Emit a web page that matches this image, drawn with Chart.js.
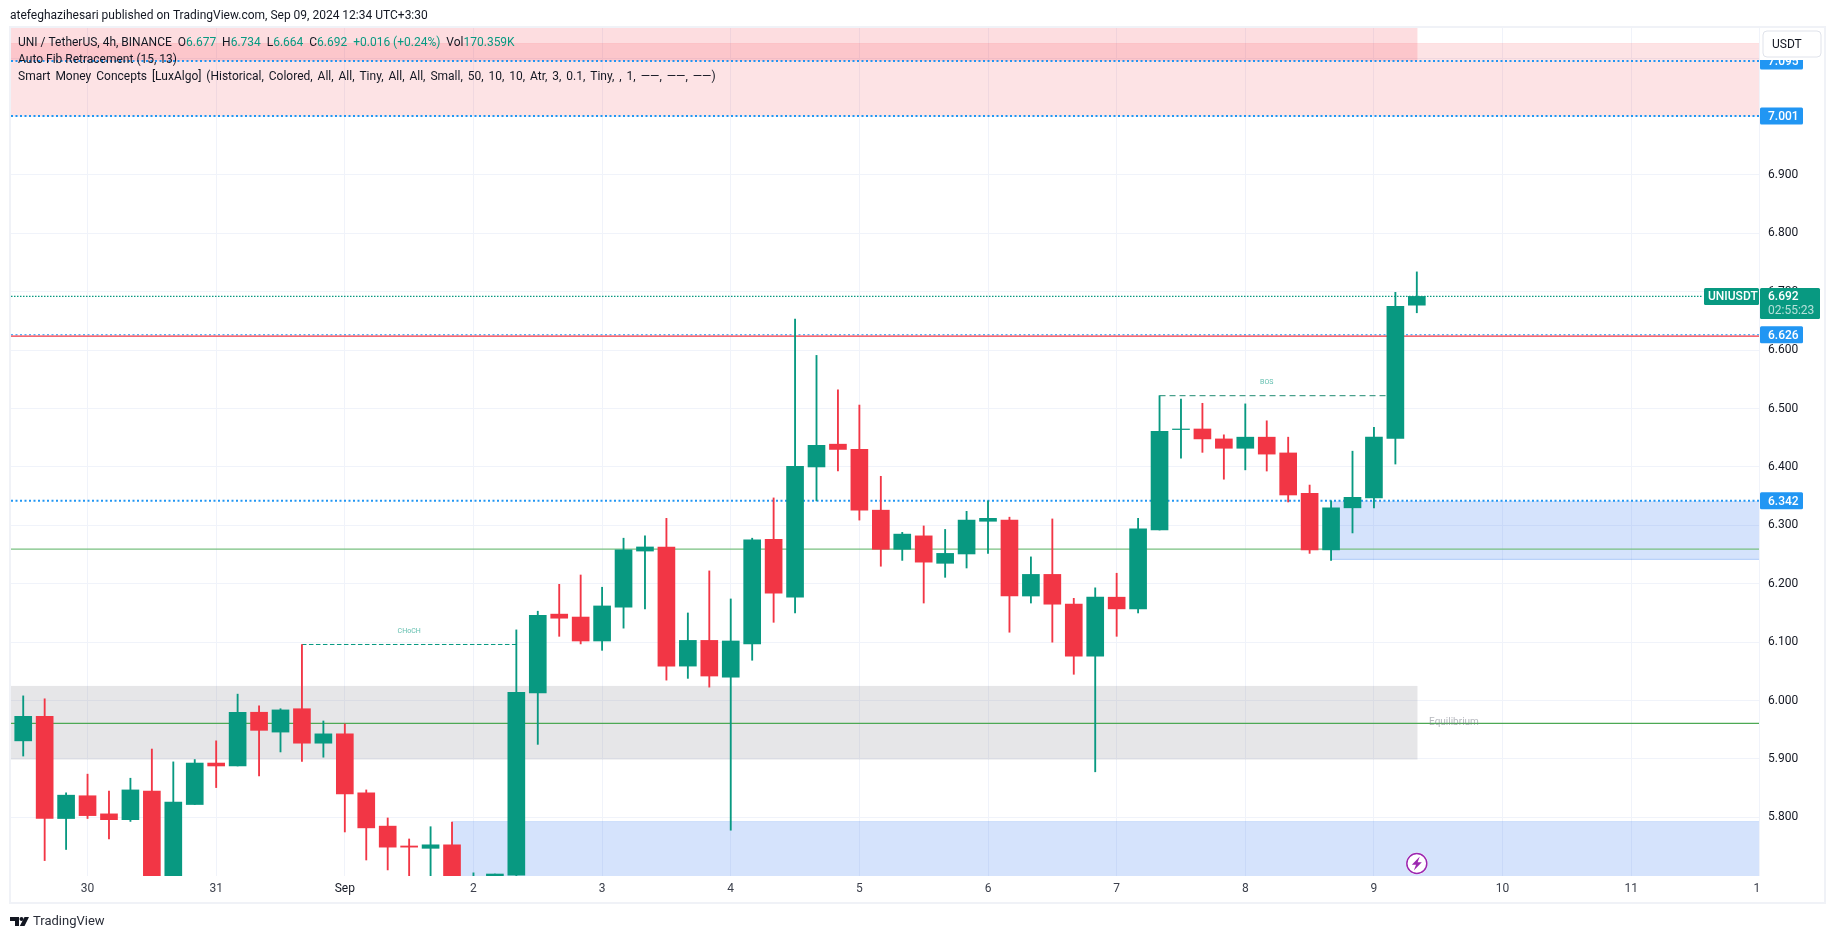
<!DOCTYPE html>
<html>
<head>
<meta charset="utf-8">
<title>UNIUSDT 4h</title>
<script src="https://cdn.jsdelivr.net/npm/chart.js@4/dist/chart.umd.min.js"></script>
<style>
  html, body { margin: 0; padding: 0; background: #fff; overflow: hidden; }
  canvas { display: block; }
</style>
</head>
<body>
<canvas id="chart" width="1835" height="939"></canvas>
<script>
const opens = [5.931,5.973,5.798,5.837,5.806,5.796,5.845,5.69,5.822,5.893,5.888,5.98,5.946,5.986,5.927,5.943,5.842,5.785,5.751,5.747,5.753,5.66,5.665,5.701,6.013,6.148,6.143,6.102,6.16,6.256,6.263,6.059,6.103,6.04,6.097,6.276,6.177,6.4,6.439,6.43,6.326,6.259,6.282,6.235,6.251,6.307,6.309,6.179,6.216,6.165,6.076,6.177,6.157,6.292,6.464,6.465,6.448,6.432,6.451,6.424,6.355,6.258,6.33,6.347,6.449,6.677];
const highs = [6.008,6.003,5.842,5.874,5.845,5.867,5.917,5.895,5.899,5.931,6.011,5.991,5.986,6.096,5.965,5.96,5.847,5.799,5.763,5.784,5.792,5.705,5.703,6.121,6.153,6.199,6.215,6.194,6.278,6.282,6.312,6.15,6.222,6.174,6.278,6.347,6.653,6.591,6.532,6.506,6.384,6.288,6.299,6.293,6.324,6.342,6.314,6.246,6.311,6.175,6.193,6.218,6.312,6.522,6.516,6.509,6.455,6.508,6.479,6.451,6.369,6.342,6.427,6.468,6.699,6.734];
const lows = [5.905,5.726,5.745,5.798,5.763,5.793,5.65,5.67,5.822,5.851,5.888,5.871,5.912,5.896,5.903,5.775,5.727,5.71,5.69,5.68,5.64,5.64,5.65,5.695,5.925,6.11,6.097,6.086,6.124,6.157,6.035,6.038,6.023,5.778,6.069,6.134,6.15,6.342,6.393,6.309,6.23,6.24,6.167,6.211,6.227,6.252,6.117,6.167,6.1,6.045,5.878,6.11,6.15,6.292,6.415,6.425,6.379,6.395,6.393,6.34,6.252,6.24,6.287,6.33,6.405,6.664];
const closes = [5.973,5.798,5.838,5.803,5.796,5.847,5.69,5.826,5.893,5.888,5.98,5.949,5.984,5.927,5.943,5.84,5.782,5.749,5.749,5.753,5.66,5.665,5.703,6.014,6.146,6.141,6.102,6.162,6.258,6.263,6.059,6.103,6.042,6.102,6.275,6.184,6.401,6.437,6.43,6.326,6.259,6.285,6.237,6.252,6.309,6.312,6.179,6.216,6.165,6.076,6.177,6.157,6.294,6.461,6.465,6.448,6.432,6.451,6.422,6.352,6.258,6.33,6.348,6.451,6.675,6.692];

const dayTicks = [3,9,15,21,27,33,39,45,51,57,63,69,75,81];
const dayLabels = ["30","31","Sep","2","3","4","5","6","7","8","9","10","11","1  "];
const priceTicks = [5.8,5.9,6.0,6.1,6.2,6.3,6.4,6.5,6.6,6.7,6.8,6.9,7.0,7.1];

const levelPrices = [7.095,7.001,6.6264,6.342];
const redLine = 6.624;
const lastPrice = 6.692;
const equilibrium = 5.961;
const strongLow = 6.2592;

const zoneNames = ["premiumTop","premium","equilibrium","demandLow","demandHigh"];
const zoneFrom = [-0.57,-0.57,-0.57,20,61];
const zoneTo = [65.03,80.96,65.03,80.96,80.96];
const zoneHigh = [7.16,7.124,6.025,5.792,6.3416];
const zoneLow = [7.095,7.001,5.899,5.6,6.241];

const structureNames = ["CHoCH","BOS"];
const structurePrice = [6.096,6.522];
const structureFrom = [13,53];
const structureTo = [23,64];

const UP = "#089981";
const DOWN = "#F23645";
const BLUE = "#2196F3";
const INK = "#131722";
const FONT = "Roboto, sans-serif";
const zoneColors = ["rgba(242,54,69,.17)","rgba(242,54,69,.14)","rgba(120,123,134,.19)","rgba(34,108,239,.19)","rgba(34,108,239,.19)"];

const candleColors = closes.map((c, i) => (c >= opens[i] ? UP : DOWN));
const xMin = -0.57, xMax = 80.96;

function hline(y, color, width, dash, from, to) {
  return {
    type: "line",
    data: [{ x: from ?? xMin, y }, { x: to ?? xMax, y }],
    borderColor: color,
    borderWidth: width,
    borderDash: dash || [],
    pointRadius: 0,
    order: 5,
  };
}

// zones sit under the lines and candles but above the grid
const zonesPlugin = {
  id: "zones",
  beforeDatasetsDraw(chart) {
    const { ctx, scales: { x, y }, chartArea: a } = chart;
    ctx.save();
    ctx.beginPath();
    ctx.rect(a.left, a.top, a.width, a.height);
    ctx.clip();
    zoneNames.forEach((name, i) => {
      const x0 = x.getPixelForValue(zoneFrom[i]);
      const x1 = x.getPixelForValue(zoneTo[i]);
      const y0 = y.getPixelForValue(zoneHigh[i]);
      const y1 = y.getPixelForValue(zoneLow[i]);
      ctx.fillStyle = zoneColors[i];
      ctx.fillRect(x0, y0, x1 - x0, y1 - y0);
    });
    ctx.fillStyle = "rgba(34,108,239,.22)";
    ctx.fillRect(x.getPixelForValue(zoneFrom[3]), y.getPixelForValue(zoneHigh[3]) - 1, x.getPixelForValue(zoneTo[3]) - x.getPixelForValue(zoneFrom[3]), 1);
    ctx.fillRect(x.getPixelForValue(zoneFrom[4]), y.getPixelForValue(zoneLow[4]) - 1, x.getPixelForValue(zoneTo[4]) - x.getPixelForValue(zoneFrom[4]), 1);
    ctx.fillStyle = "rgba(242,54,69,.18)";
    ctx.fillRect(x.getPixelForValue(zoneFrom[1]), y.getPixelForValue(zoneHigh[1]) - 1, x.getPixelForValue(zoneTo[1]) - x.getPixelForValue(zoneFrom[1]), 1);
    ctx.restore();
  },
};

function tag(ctx, left, top, w, h, color) {
  ctx.fillStyle = color;
  ctx.beginPath();
  ctx.roundRect(left, top, w, h, 1.5);
  ctx.fill();
}

function runs(ctx, x, y, parts) {
  parts.forEach(([text, color]) => {
    ctx.fillStyle = color;
    ctx.fillText(text, x, y);
    x += ctx.measureText(text).width;
  });
}

const overlayPlugin = {
  id: "overlay",
  afterDraw(chart) {
    const { ctx, scales: { x, y } } = chart;
    ctx.save();
    ctx.textBaseline = "middle";
    ctx.textAlign = "left";

    // frame
    ctx.strokeStyle = "#F0F2F7";
    ctx.lineWidth = 2;
    ctx.strokeRect(10, 27, 1815, 876);

    // header and legend
    ctx.font = "12px " + FONT;
    ctx.fillStyle = INK;
    ctx.fillText("atefeghazihesari published on TradingView.com, Sep 09, 2024 12:34 UTC+3:30", 10, 15.5);
    runs(ctx, 18, 42.5, [
      ["UNI / TetherUS, 4h, BINANCE  O", INK], ["6.677", UP], ["  H", INK], ["6.734", UP],
      ["  L", INK], ["6.664", UP], ["  C", INK], ["6.692", UP], ["  +0.016 (+0.24%)", UP],
      ["  Vol", INK], ["170.359K", UP],
    ]);
    ctx.fillStyle = INK;
    ctx.fillText("Auto Fib Retracement (15, 13)", 18, 59.5);
    ctx.wordSpacing = "1.95px";
    ctx.fillText("Smart Money Concepts [LuxAlgo] (Historical, Colored, All, All, Tiny, All, All, Small, 50, 10, 10, Atr, 3, 0.1, Tiny, , 1, \u2014\u2014, \u2014\u2014, \u2014\u2014)", 18, 77);
    ctx.wordSpacing = "0px";

    // structure labels
    ctx.font = "7px " + FONT;
    ctx.textAlign = "center";
    ctx.fillStyle = "rgba(8,153,129,.65)";
    structureNames.forEach((name, i) => {
      const mid = name === "BOS" ? 58 : 18;
      ctx.fillText(name, x.getPixelForValue(mid), y.getPixelForValue(structurePrice[i]) - 13);
    });
    ctx.textAlign = "left";
    ctx.font = "10px " + FONT;
    ctx.fillStyle = "rgba(120,123,134,.55)";
    ctx.fillText("Equilibrium", x.getPixelForValue(65.57), y.getPixelForValue(equilibrium) - 1);

    // price tags
    ctx.font = "500 12px " + FONT;
    levelPrices.forEach((p) => {
      const py = y.getPixelForValue(p);
      tag(ctx, 1760, py - 8.5, 43, 17, BLUE);
      ctx.fillStyle = "#fff";
      ctx.fillText(p.toFixed(3), 1768, py + 1);
    });
    const ly = y.getPixelForValue(lastPrice);
    tag(ctx, 1704, ly - 8.5, 55, 17, UP);
    tag(ctx, 1760, ly - 8.5, 60, 31, UP);
    ctx.fillStyle = "#fff";
    ctx.fillText("UNIUSDT", 1708, ly + 1);
    ctx.fillText(lastPrice.toFixed(3), 1768, ly + 1);
    ctx.fillStyle = "rgba(255,255,255,.7)";
    ctx.font = "12px " + FONT;
    ctx.fillText("02:55:23", 1768, ly + 15);

    // currency button, its white surround hides the top of the price scale
    ctx.fillStyle = "#fff";
    ctx.fillRect(1760, 28, 64, 32);
    ctx.strokeStyle = "#E0E3EB";
    ctx.lineWidth = 1;
    ctx.beginPath();
    ctx.roundRect(1763, 31, 58, 26, 4);
    ctx.stroke();
    ctx.fillStyle = INK;
    ctx.fillText("USDT", 1772, 45);

    // flash badge under the last candle
    const bx = x.getPixelForValue(65), by = 863.5;
    ctx.fillStyle = "#fff";
    ctx.beginPath();
    ctx.arc(bx, by, 11, 0, Math.PI * 2);
    ctx.fill();
    ctx.strokeStyle = "#9C27B0";
    ctx.lineWidth = 1.5;
    ctx.beginPath();
    ctx.arc(bx, by, 10, 0, Math.PI * 2);
    ctx.stroke();
    ctx.fillStyle = "#9C27B0";
    ctx.beginPath();
    ctx.moveTo(bx + 3, by - 7);
    ctx.lineTo(bx - 5, by + 1.2);
    ctx.lineTo(bx - 0.8, by + 1.2);
    ctx.lineTo(bx - 3, by + 7);
    ctx.lineTo(bx + 5, by - 1.2);
    ctx.lineTo(bx + 0.8, by - 1.2);
    ctx.closePath();
    ctx.fill();

    // TradingView mark
    ctx.fillStyle = INK;
    ctx.beginPath();
    ctx.moveTo(10, 917);
    ctx.lineTo(19, 917);
    ctx.lineTo(19, 926);
    ctx.lineTo(15, 926);
    ctx.lineTo(15, 921);
    ctx.lineTo(10, 921);
    ctx.closePath();
    ctx.moveTo(24.5, 917);
    ctx.lineTo(29, 917);
    ctx.lineTo(24.5, 926);
    ctx.lineTo(19.8, 926);
    ctx.closePath();
    ctx.fill();
    ctx.beginPath();
    ctx.arc(21.5, 919, 2, 0, Math.PI * 2);
    ctx.fill();
    ctx.fillStyle = "#2A2E39";
    ctx.font = "13px " + FONT;
    ctx.fillText("TradingView", 33, 922);
    ctx.restore();
  },
};

new Chart(document.getElementById("chart"), {
  type: "bar",
  plugins: [zonesPlugin, overlayPlugin],
  data: {
    datasets: [
      {
        label: "bodies",
        data: opens.map((o, i) => ({ x: i, y: [o, closes[i]] })),
        backgroundColor: candleColors,
        barThickness: 17,
        grouped: false,
        order: 1,
      },
      {
        label: "wicks",
        data: lows.map((l, i) => ({ x: i, y: [l, highs[i]] })),
        backgroundColor: candleColors,
        barThickness: 1.2,
        grouped: false,
        order: 2,
      },
      hline(redLine, DOWN, 1.1),
      hline(levelPrices[0], BLUE, 2, [2, 2.5]),
      hline(levelPrices[1], BLUE, 2, [2, 2.5]),
      hline(levelPrices[2], BLUE, 1.2, [2, 2.5]),
      hline(levelPrices[3], BLUE, 2, [2, 2.5]),
      hline(lastPrice, UP, 1.4, [1.5, 1.5], xMin, 78.3),
      hline(equilibrium, "#4CA954", 1.2),
      hline(strongLow, "#78C080", 1.3),
      hline(structurePrice[0], UP, 1, [4.5, 2.5], structureFrom[0], structureTo[0]),
      hline(structurePrice[1], "#1F8A72", 1, [6, 4], structureFrom[1], structureTo[1]),
    ],
  },
  options: {
    responsive: false,
    animation: false,
    layout: { padding: { left: 11, top: 28, right: 0, bottom: 0 } },
    plugins: { legend: { display: false }, tooltip: { enabled: false } },
    scales: {
      x: {
        type: "linear",
        min: xMin,
        max: xMax,
        offset: false,
        border: { display: false },
        grid: { color: "#F0F3FA", offset: false, drawTicks: false },
        afterBuildTicks: (scale) => {
          scale.ticks = dayTicks.map((value) => ({ value }));
        },
        afterFit: (scale) => {
          scale.height = 63;
        },
        ticks: {
          autoSkip: false,
          maxRotation: 0,
          padding: 6,
          color: (c) => (dayLabels[c.index] === "Sep" ? INK : "#3C404C"),
          font: { family: FONT, size: 12 },
          callback: (value, index) => dayLabels[index],
        },
      },
      y: {
        position: "right",
        min: 5.6996,
        max: 7.1516,
        border: { display: false },
        grid: { color: "#F0F3FA", drawTicks: false },
        afterBuildTicks: (scale) => {
          scale.ticks = priceTicks.map((value) => ({ value }));
        },
        afterFit: (scale) => {
          scale.width = 76;
        },
        ticks: {
          autoSkip: false,
          padding: 9,
          color: INK,
          font: { family: FONT, size: 12 },
          callback: (value) => value.toFixed(3),
        },
      },
    },
  },
});
</script>
</body>
</html>
